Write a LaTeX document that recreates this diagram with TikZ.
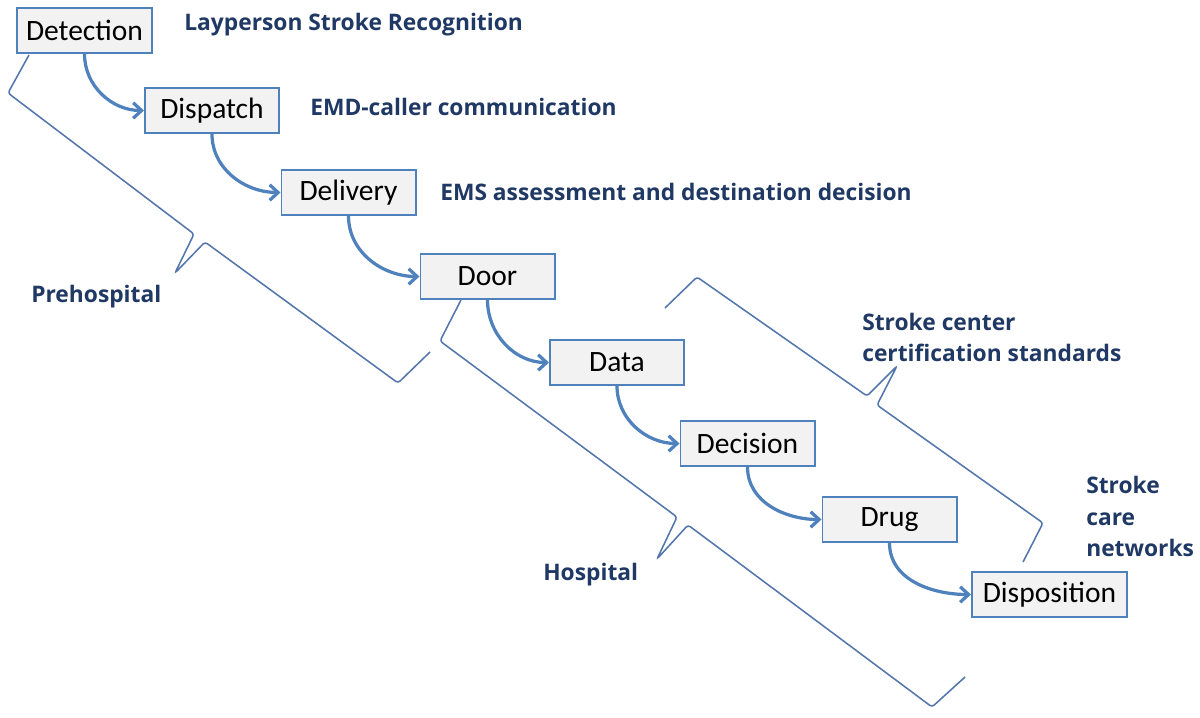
\documentclass[tikz,border=0pt]{standalone}
\usepackage{fontspec}
\setmainfont{Open Sans}
\newfontfamily\boxfont{Carlito}
\usetikzlibrary{arrows.meta}

\definecolor{boxblue}{RGB}{79,129,189}
\definecolor{boxfill}{RGB}{242,242,242}
\definecolor{bracketblue}{RGB}{84,118,172}
\definecolor{labelnavy}{RGB}{31,56,100}

\begin{document}
\begin{tikzpicture}[x=0.025cm, y=-0.025cm,
  phase/.style={draw=boxblue, line width=1.4pt, fill=boxfill, minimum width=3.35cm,
    minimum height=1.125cm, inner sep=0pt, font=\boxfont\fontsize{21}{25}\selectfont},
  flow/.style={draw=boxblue, line width=2.3pt, -{Straight Barb[length=6pt,width=11pt]}},
  bracket/.style={draw=bracketblue, line width=1.1pt, rounded corners=2pt},
  note/.style={anchor=west, inner sep=0pt, align=left, text=labelnavy,
    font=\bfseries\fontsize{16.2}{22.5}\selectfont}]

\useasboundingbox (0,0) rectangle (1200,717);

% the eight D's
\node[phase] (det) at (84.5,30.5) {Detection};
\node[phase] (dsp) at (212,110.5) {Dispatch};
\node[phase] (del) at (348.5,192.5) {Delivery};
\node[phase] (door) at (487.5,276.5) {Door};
\node[phase] (data) at (617,362.5) {Data};
\node[phase] (dec) at (747.5,443.5) {Decision};
\node[phase] (drug) at (889.5,519.5) {Drug};
\node[phase, minimum width=3.875cm] (dpo) at (1049.5,594.5) {Disposition};

\path (det.south) edge[flow, out=-90, in=180] (dsp.west)
(dsp.south) edge[flow, out=-90, in=180] (del.west)
(del.south) edge[flow, out=-90, in=180] (door.west)
(door.south) edge[flow, out=-90, in=180] (data.west)
(data.south) edge[flow, out=-90, in=180] (dec.west)
(dec.south) edge[flow, out=-90, in=180] (drug.west)
(drug.south) edge[flow, out=-90, in=180] (dpo.west);

% brackets
\draw[bracket] (29,55) -- (8,93) -- (194,234) -- (175,273) -- (205,242) -- (398,383) -- (430,352);
\draw[bracket] (461,300) -- (440,341) -- (677,517) -- (657,559) -- (688,525) -- (932,707) -- (965,677);
\draw[bracket] (665,308) -- (697,277) -- (867,396) -- (897,366) -- (877,405) -- (1043,523) -- (1023,562);

% labels
\node[note] (lay) at (184,25) {Layperson Stroke Recognition};
\node[note] (emd) at (310,107) {EMD-caller communication};
\node[note] (ems) at (440,192) {EMS assessment and destination decision};
\node[note] (pre) at (31,297) {Prehospital};
\node[note] (hosp) at (543,575) {Hospital};
\node[note] (cert) at (862,337.5) {Stroke center\\certification standards};
\node[note] (net) at (1086,516.5) {Stroke\\care\\networks};
\end{tikzpicture}
\end{document}
